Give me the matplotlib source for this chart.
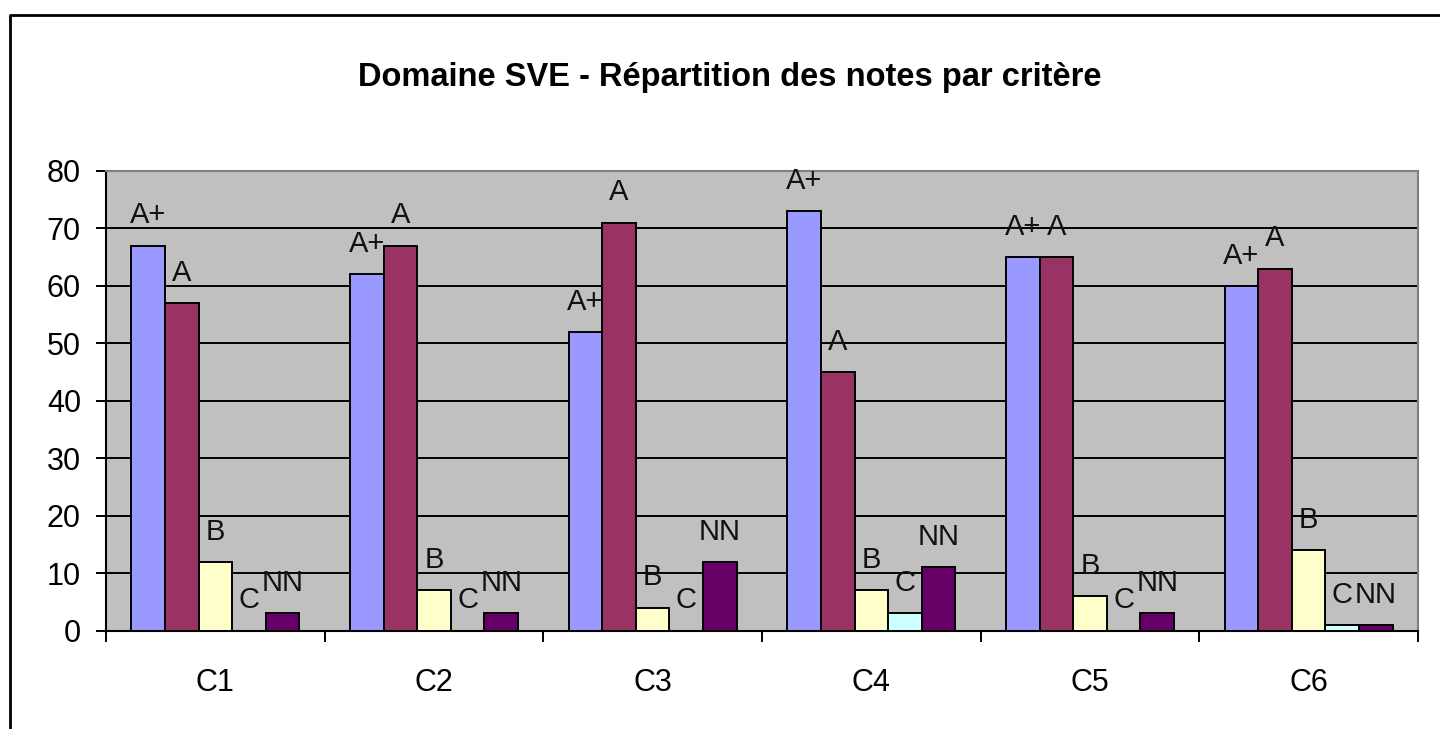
import numpy as np
import matplotlib.pyplot as plt
from matplotlib.lines import Line2D

# Données
categories = ['C1', 'C2', 'C3', 'C4', 'C5', 'C6']
series = ['A+', 'A', 'B', 'C', 'NN']
val_aplus = [67, 62, 52, 73, 65, 60]
val_a = [57, 67, 71, 45, 65, 63]
val_b = [12, 7, 4, 7, 6, 14]
val_c = [0, 0, 0, 3, 0, 1]
val_nn = [3, 3, 12, 11, 3, 1]
couleurs = ['#9999FF', '#993366', '#FFFFCC', '#CCFFFF', '#660066']

valeurs = [val_aplus, val_a, val_b, val_c, val_nn]

plt.rcParams['font.family'] = ['Liberation Sans', 'DejaVu Sans']

fig = plt.figure(figsize=(14.4, 7.29), dpi=100)
ax = fig.add_axes([106/1440, 1 - 630.7/729, (1418 - 106)/1440, (630.7 - 171)/729])
ax.set_facecolor('#C0C0C0')

x = np.arange(len(categories))
w = 1 / 6.5
for i, (nom, vals, col) in enumerate(zip(series, valeurs, couleurs)):
    pos = x + (i - 2) * w
    ax.bar(pos, vals, width=w, color=col, edgecolor='black', linewidth=1.4, zorder=3)
    for px, v in zip(pos, vals):
        ax.annotate(nom, (px, v), xytext=(0, 16), textcoords='offset points',
                    ha='center', va='baseline', fontsize=21, color='#111111', zorder=4)

ax.set_xlim(-0.5, 5.5)
ax.set_ylim(0, 80)
ax.set_yticks(range(0, 81, 10))
ax.yaxis.grid(True, color='black', linewidth=1.4, zorder=1)
ax.set_axisbelow(True)

# ticks majeurs aux limites des catégories, étiquettes au centre
ax.set_xticks(np.arange(-0.5, 6, 1))
ax.set_xticklabels([])
ax.set_xticks(x, minor=True)
ax.set_xticklabels(categories, minor=True)
ax.tick_params(axis='x', which='minor', length=0, pad=27, labelsize=22)
ax.tick_params(axis='x', which='major', length=8, width=1.4, direction='out')
ax.tick_params(axis='y', length=7, width=1.4, pad=11, labelsize=22)

for s in ['left', 'bottom']:
    ax.spines[s].set_color('black')
    ax.spines[s].set_linewidth(1.5)
for s in ['top', 'right']:
    ax.spines[s].set_color('#808080')
    ax.spines[s].set_linewidth(1.5)

fig.text(730/1440, 1 - 86/729, 'Domaine SVE - Répartition des notes par critère',
         ha='center', va='baseline', fontsize=23.5, fontweight='bold')

# cadre du graphique
fig.add_artist(Line2D([10/1440, 10/1440, 1.0], [0.0, 1 - 15/729, 1 - 15/729],
                      transform=fig.transFigure, color='black', linewidth=2))

fig.savefig('out.png', dpi=100)
